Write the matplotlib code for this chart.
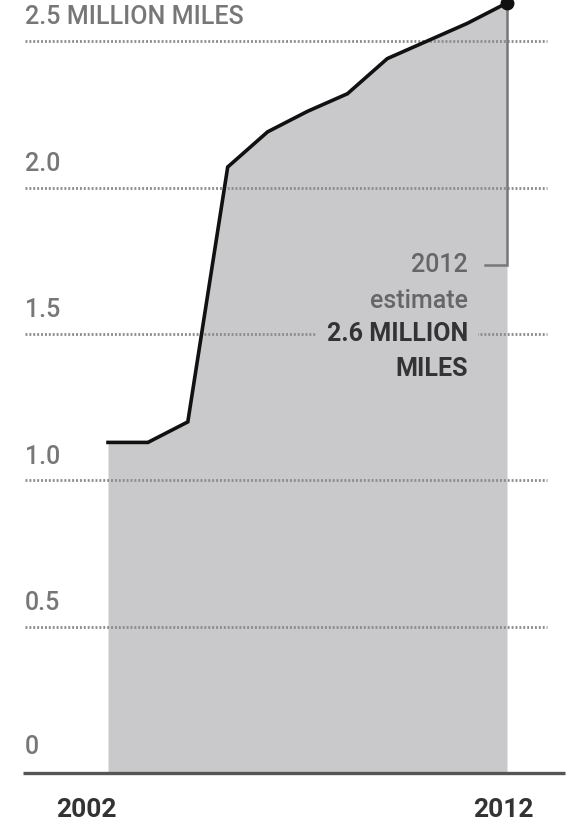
import matplotlib
matplotlib.use("Agg")
import matplotlib.pyplot as plt

# road miles per year (millions)
years = [2002, 2003, 2004, 2005, 2006, 2007, 2008, 2009, 2010, 2011, 2012]
miles = [1.13, 1.13, 1.20, 2.07, 2.19, 2.26, 2.32, 2.44, 2.50, 2.56, 2.63]
grid_levels = [0.5, 1.0, 1.5, 2.0, 2.5]
grid_labels = ["0.5", "1.0", "1.5", "2.0", "2.5 MILLION MILES"]
x_labels = ["2002", "2012"]

plt.rcParams['font.family'] = ['Roboto', 'DejaVu Sans']

FILL = '#c9c9cb'
PX = 39.9  # pixels per year
fig = plt.figure(figsize=(5.7, 8.23), dpi=100)
ax = fig.add_axes([0, 0, 1, 1])
ax.set_xlim(1999.293, 2013.579)
ax.set_ylim(-0.169, 2.640)
ax.axis('off')

# shaded area + line
ax.fill_between(years, miles, 0, color=FILL, lw=0, zorder=1)
ax.plot(years, miles, color='#111111', lw=2.6, solid_joinstyle='miter', zorder=4)
ax.plot(years[-1], miles[-1], 'o', color='#111111', ms=9, clip_on=False, zorder=5)

# dotted gridlines and labels
x0, x1 = 1999.293 + 25 / PX, 2012.0 + 40 / PX
for lvl, lab in zip(grid_levels, grid_labels):
    ax.plot([x0, x1], [lvl, lvl], color='#8c8c8c', lw=2.0,
            linestyle=(0, (0.7, 0.7)), zorder=2)
    ax.text(x0, lvl + 0.04, lab, fontsize=18, fontweight='medium',
            color='#777777', ha='left', va='bottom', zorder=3)
ax.text(x0, 0.05, "0", fontsize=18, fontweight='medium', color='#777777',
        ha='left', va='bottom')

# baseline
ax.plot([1999.293 + 23 / PX, 2012 + 58 / PX], [0, 0], color='#555555', lw=2.4,
        solid_capstyle='butt', zorder=3)

# x labels
ax.text(2002 - 0.55, -0.125, x_labels[0], fontsize=19, fontweight='bold',
        color='#333333', ha='center', va='center')
ax.text(2012 - 0.1, -0.125, x_labels[1], fontsize=19, fontweight='bold',
        color='#333333', ha='center', va='center')

# annotation bracket
ax.plot([2012 - 22 / PX, 2012, 2012], [1.737, 1.737, miles[-1]], color='#777777',
        lw=1.8, solid_joinstyle='miter', zorder=3)
tx = 2012 - 39 / PX
ax.text(tx, 1.737, "2012", fontsize=18, fontweight='medium', color='#666666',
        ha='right', va='center')
ax.text(tx, 1.612, "estimate", fontsize=18, fontweight='medium', color='#666666',
        ha='right', va='center')
ax.text(tx, 1.50, "2.6 MILLION", fontsize=18, fontweight='bold', color='#333333',
        ha='right', va='center', zorder=6,
        bbox=dict(facecolor=FILL, edgecolor='none', pad=7))
ax.text(tx, 1.38, "MILES", fontsize=18, fontweight='bold', color='#333333',
        ha='right', va='center')

fig.savefig("out.png", dpi=100)
